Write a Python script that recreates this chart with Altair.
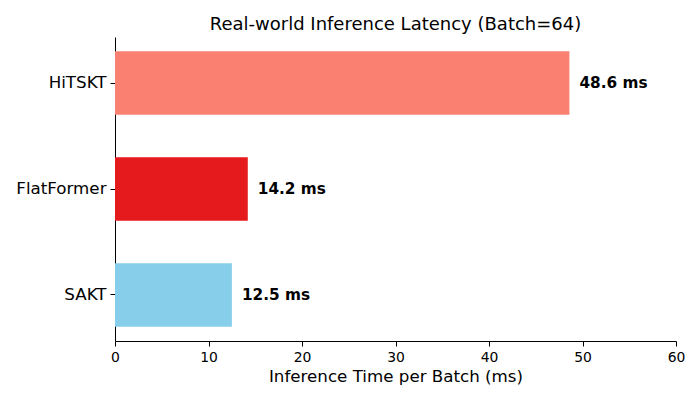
import altair as alt
import pandas as pd

models = ["HiTSKT", "FlatFormer", "SAKT"]
latency = [48.6, 14.2, 12.5]
colors = ["#FA8072", "#E41A1C", "#87CEEB"]
labels = ["48.6 ms", "14.2 ms", "12.5 ms"]

df = pd.DataFrame({"model": models, "latency": latency, "color": colors, "label": labels})

FONT = "DejaVu Sans"

y = alt.Y("model:N", sort=models, title=None,
          scale=alt.Scale(paddingInner=0.4, paddingOuter=0.134),
          axis=alt.Axis(labelFontSize=16.7, labelFont=FONT, labelColor="black",
                        domainColor="black", tickColor="black", tickSize=5,
                        labelPadding=4, grid=False))
x = alt.X("latency:Q", title="Inference Time per Batch (ms)",
          scale=alt.Scale(domain=[0, 60], nice=False),
          axis=alt.Axis(values=[0, 10, 20, 30, 40, 50, 60], labelFontSize=13.9, labelFont=FONT,
                        labelColor="black", titleFontSize=16.7, titleFont=FONT,
                        titleFontWeight="normal", titleColor="black",
                        domainColor="black", tickColor="black", tickSize=5,
                        labelFlush=False,
                        grid=False, titlePadding=5, labelPadding=4))

bars = alt.Chart(df).mark_bar().encode(
    y=y, x=x, color=alt.Color("color:N", scale=None)
)
text = alt.Chart(df).mark_text(align="left", baseline="middle", dx=10, fontSize=15.3,
                               fontWeight="bold", font=FONT, color="black").encode(
    y=alt.Y("model:N", sort=models), x=alt.X("latency:Q"), text="label:N"
)

chart = (bars + text).properties(
    width=561, height=304,
    title=alt.Title("Real-world Inference Latency (Batch=64)", fontSize=18, font=FONT,
                    fontWeight="normal", color="black", offset=3),
    autosize=alt.AutoSizeParams(type="none"),
    padding={"left": 107, "top": 29, "right": 16, "bottom": 51},
).configure_view(stroke=None).configure_axisY(domain=True).configure_axisX(domain=True)

chart.save("out.html", embed_options={"renderer": "svg", "actions": False})
